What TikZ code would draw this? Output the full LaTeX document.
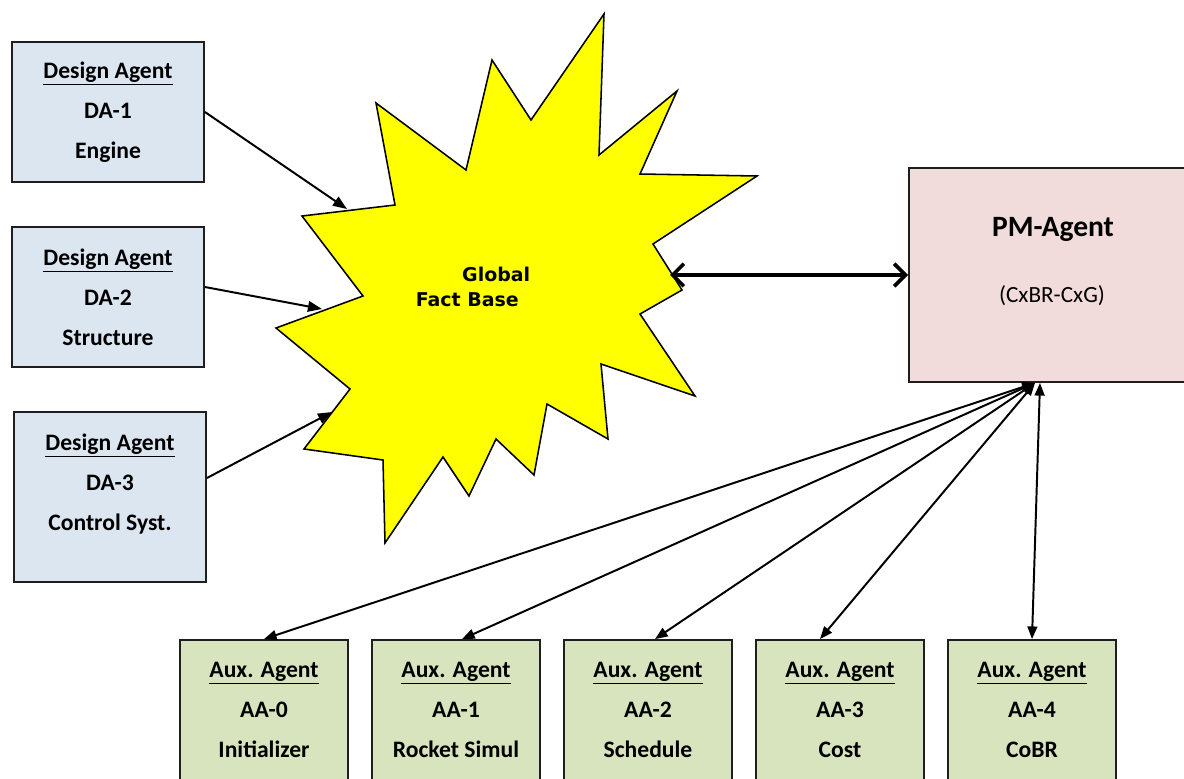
\documentclass[tikz,border=0pt]{standalone}
\usepackage{fontspec}
\setmainfont{Carlito}
\newfontfamily\burstfont{DejaVu Sans}
\usetikzlibrary{arrows.meta, positioning, calc}
\definecolor{dablue}{RGB}{220,230,241}
\definecolor{aagreen}{RGB}{215,228,189}
\definecolor{pmpink}{RGB}{242,220,219}
\definecolor{boxline}{RGB}{30,30,30}
\definecolor{burstyellow}{RGB}{255,255,0}

\begin{document}
\begin{tikzpicture}[
    x=0.025cm, y=-0.025cm,
    % Styles for the agent boxes
    designbox/.style={draw=boxline, line width=1.3pt, fill=dablue, minimum width=4.8cm, minimum height=3.5cm, align=center, inner sep=0pt, font=\fontsize{16.8}{28.35}\selectfont\bfseries},
    auxbox/.style={draw=boxline, line width=1.3pt, fill=aagreen, minimum width=4.2cm, minimum height=3.5cm, align=center, inner sep=0pt, font=\fontsize{16.8}{28.35}\selectfont\bfseries},
    pmbox/.style={draw=boxline, line width=1.3pt, fill=pmpink, minimum width=7.05cm, minimum height=5.35cm, inner sep=0pt},
    burst/.style={draw=black, line width=1.1pt, fill=burstyellow, line join=miter},
    bursttext/.style={align=left, inner sep=0pt, font=\burstfont\fontsize{13.5}{17.7}\selectfont\bfseries},
    feed/.style={-{Triangle[length=10pt,width=7.5pt]}, line width=1.4pt},
    link/.style={{Straight Barb[length=8pt,width=16pt]}-{Straight Barb[length=8pt,width=16pt]}, line width=2.6pt},
    aux/.style={{Triangle[length=9pt,width=7pt]}-{Triangle[length=9pt,width=7pt]}, line width=1.4pt}
]
\useasboundingbox (0,0) rectangle (1184,778);

% ----------------------------------------------------
% Global fact base (starburst)
% ----------------------------------------------------
\draw[burst] (604,14) -- (599,155) -- (677,91) -- (640,174) -- (757,176)
    -- (653,244) -- (682,290) -- (640,314) -- (695,396) -- (601,364)
    -- (608,439) -- (547,404) -- (534,475) -- (496,439) -- (469,496)
    -- (443,457) -- (385,543) -- (383,460) -- (304,449) -- (350,389)
    -- (276,328) -- (363,296) -- (302,216) -- (395,205) -- (376,103)
    -- (466,170) -- (492,60) -- (531,120) -- cycle;
\node[bursttext] (gfb) at (473,287) {\hspace{33pt}Global\\Fact Base};

% Where the connectors meet the starburst
\coordinate (gfbin1) at (347,209);
\coordinate (gfbin2) at (322,309);
\coordinate (gfbin3) at (332,412);
\coordinate (gfbout) at (670,275);

% ----------------------------------------------------
% Design agents
% ----------------------------------------------------
\node[designbox] (da1) at (108,112) {\underline{Design Agent}\\DA-1\\Engine};
\node[designbox] (da2) at (108,297) {\underline{Design Agent}\\DA-2\\Structure};
\node[designbox, minimum height=4.25cm] (da3) at (110,497) {\underline{Design Agent}\\DA-3\\Control Syst.\\[-7pt]\mbox{}};

\draw[feed] (da1.east) -- (gfbin1);
\draw[feed] ($(da2.east)+(0,-10)$) -- (gfbin2);
\draw[feed] ($(da3.east)+(0,-19)$) -- (gfbin3);

% ----------------------------------------------------
% PM agent
% ----------------------------------------------------
\node[pmbox] (pm) at (1050,275) {};
\node[font=\fontsize{21}{24}\selectfont\bfseries] (pmtitle) at ($(pm.north)+(3,62)$) {PM-Agent};
\node[font=\fontsize{16.5}{19}\selectfont] (pmsub) at ($(pm.north)+(2,129)$) {(CxBR-CxG)};

\draw[link] (gfbout) -- (pm.west);

% ----------------------------------------------------
% Auxiliary agents
% ----------------------------------------------------
\node[auxbox] (aa0) at (264,710) {\underline{Aux. Agent}\\AA-0\\Initializer};
\node[auxbox] (aa1) at (456,710) {\underline{Aux. Agent}\\AA-1\\Rocket Simul};
\node[auxbox] (aa2) at (648,710) {\underline{Aux. Agent}\\AA-2\\Schedule};
\node[auxbox] (aa3) at (840,710) {\underline{Aux. Agent}\\AA-3\\Cost};
\node[auxbox] (aa4) at (1032,710) {\underline{Aux. Agent}\\AA-4\\CoBR};

\coordinate (pmhub) at ($(pm.south)+(-15,0)$);
\draw[aux] (pmhub) -- (aa0.north);
\draw[aux] (pmhub) -- ($(aa1.north)+(6,0)$);
\draw[aux] (pmhub) -- ($(aa2.north)+(7,0)$);
\draw[aux] (pmhub) -- ($(aa3.north)+(-20,0)$);
\draw[aux] ($(pm.south)+(-10,0)$) -- (aa4.north);

\end{tikzpicture}
\end{document}
